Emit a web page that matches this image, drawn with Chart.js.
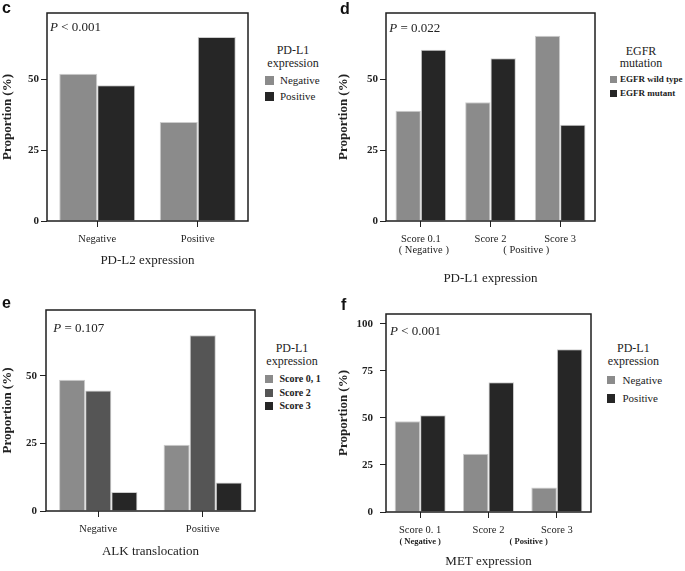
<!DOCTYPE html>
<html><head><meta charset="utf-8">
<script src="https://cdn.jsdelivr.net/npm/chart.js@4.4.1/dist/chart.umd.min.js"></script>
<style>
html,body{margin:0;padding:0;background:#fff;}
#root{position:relative;width:685px;height:571px;overflow:hidden;font-family:"Liberation Serif","Times New Roman",serif;color:#222;}
canvas{position:absolute;}
.t{position:absolute;white-space:nowrap;}
.sw{position:absolute;}
.pl{position:absolute;font-family:"Liberation Sans",Arial,sans-serif;font-weight:bold;font-size:16px;line-height:16px;color:#111;}
</style></head><body><div id="root"></div>
<script>
// ---- data ----
const cCategories = ["Negative", "Positive"];
const cNegative = [52, 35];
const cPositive = [48, 65];

const dCategories = ["Score 0.1", "Score 2", "Score 3"];
const dWildType = [39, 42, 65.5];
const dMutant = [60.5, 57.5, 34];

const eCategories = ["Negative", "Positive"];
const eScore01 = [48.5, 24.5];
const eScore2 = [44.5, 65];
const eScore3 = [7, 10.5];

const fCategories = ["Score 0. 1", "Score 2", "Score 3"];
const fNegative = [48.3, 31, 13];
const fPositive = [51.5, 69, 86.5];

const yTicks50 = [0, 25, 50];
const yTicks100 = [0, 25, 50, 75, 100];

const GRAY = '#8b8b8b', DARK = '#555555', BLACK = '#262626';
const SERIF = '"Liberation Serif", "Times New Roman", serif';
const root = document.getElementById('root');

const boxPlugin = {
  id: 'box',
  afterDatasetsDraw(chart) {
    const {ctx, chartArea: a} = chart;
    ctx.save();
    ctx.strokeStyle = '#1e1e1e';
    ctx.lineWidth = 1.5;
    ctx.strokeRect(a.left, a.top, a.right - a.left, a.bottom - a.top);
    ctx.restore();
  }
};

function panel(p) {
  const cv = document.createElement('canvas');
  cv.width = p.canvas.w; cv.height = p.canvas.h;
  cv.style.left = p.canvas.x + 'px'; cv.style.top = p.canvas.y + 'px';
  cv.style.width = p.canvas.w + 'px'; cv.style.height = p.canvas.h + 'px';
  root.appendChild(cv);
  const ys = 13, xs = 13, ylh = ys * 1.2, xlh = xs * 1.2;
  const chart = new Chart(cv, {
    type: 'bar',
    data: {
      labels: p.labels,
      datasets: p.datasets.map(d => ({
        label: d.label, data: d.data, backgroundColor: d.color,
        borderColor: '#cdcdcd', borderWidth: 1,
        barPercentage: 1, categoryPercentage: p.catPct
      }))
    },
    options: {
      responsive: false, animation: false, devicePixelRatio: 1,
      layout: {padding: {top: p.area.t - p.canvas.y, right: p.canvas.x + p.canvas.w - p.area.r, left: 0, bottom: 0}},
      plugins: {legend: {display: false}, tooltip: {enabled: false}},
      scales: {
        x: {
          type: 'category', offset: true,
          grid: {display: true, drawOnChartArea: false, drawTicks: true, tickLength: 6, tickColor: '#222', offset: false, lineWidth: 1},
          border: {display: false},
          ticks: {font: {family: SERIF, size: 10.5, weight: p.xBold ? 'bold' : 'normal'}, color: '#222', padding: 6, maxRotation: 0, autoSkip: false},
          title: {display: true, text: p.xTitle, font: {family: SERIF, size: xs}, color: '#222',
                  padding: {top: 0, bottom: p.canvas.y + p.canvas.h - p.xTitleY - xlh / 2}},
          afterFit(s) { s.height = p.canvas.y + p.canvas.h - p.area.b; }
        },
        y: {
          min: 0, max: p.yMax,
          afterBuildTicks(s) { s.ticks = p.yTicks.map(v => ({value: v})); },
          grid: {display: true, drawOnChartArea: false, drawTicks: true, tickLength: 6, tickColor: '#222', lineWidth: 1},
          border: {display: false},
          ticks: {font: {family: SERIF, size: 11, weight: 'bold'}, color: '#222', padding: p.yPad},
          title: {display: true, text: 'Proportion (%)', font: {family: SERIF, size: ys, weight: 'bold'}, color: '#222',
                  padding: {top: p.yTitleX - p.canvas.x - ylh / 2, bottom: 0}},
          afterFit(s) { s.width = p.area.l - p.canvas.x; }
        }
      }
    },
    plugins: [boxPlugin]
  });
  return chart;
}

function txt(s, x, y, size, o = {}) {
  const d = document.createElement('div');
  d.className = 't';
  d.innerHTML = s;
  d.style.fontSize = size + 'px';
  d.style.lineHeight = size + 'px';
  d.style.top = (y - size / 2) + 'px';
  if (o.center) { d.style.left = x + 'px'; d.style.transform = 'translateX(-50%)'; }
  else d.style.left = x + 'px';
  if (o.bold) d.style.fontWeight = 'bold';
  if (o.color) d.style.color = o.color;
  root.appendChild(d);
  return d;
}
function letter(s, x, y) {
  const d = document.createElement('div');
  d.className = 'pl'; d.textContent = s;
  d.style.left = x + 'px'; d.style.top = y + 'px';
  root.appendChild(d);
}
function legend(L) {
  L.title.forEach((t, i) => txt(t, L.cx, L.ty[i], 12, {center: true}));
  L.items.forEach((it, i) => {
    const sw = document.createElement('div');
    sw.className = 'sw';
    sw.style.left = L.sx + 'px';
    sw.style.top = (L.iy[i] - L.ss / 2) + 'px';
    sw.style.width = L.ss + 'px'; sw.style.height = L.ss + 'px';
    sw.style.background = it.color;
    root.appendChild(sw);
    txt(it.label, L.tx, L.iy[i], L.fs, {bold: L.bold});
  });
}

// ---- panel c ----
const chC = panel({
  canvas: {x: 0, y: 0, w: 250, h: 275}, area: {l: 47, t: 13, r: 248, b: 221},
  yTitleX: 7.5, xTitleY: 260.5, yPad: 2, yMax: 73.5, yTicks: yTicks50, catPct: 0.756,
  labels: cCategories, xTitle: 'PD-L2 expression',
  datasets: [{label: 'Negative', data: cNegative, color: GRAY}, {label: 'Positive', data: cPositive, color: BLACK}]
});
letter('c', 2, 0);
txt('<i>P</i> &lt; 0.001', 50, 26.7, 13);
legend({title: ['PD-L1', 'expression'], cx: 293, ty: [50, 62.5], sx: 265, ss: 9, tx: 280, fs: 11,
  iy: [80, 96.7], items: [{label: 'Negative', color: GRAY}, {label: 'Positive', color: BLACK}]});

// ---- panel d ----
const chD = panel({
  canvas: {x: 336, y: 0, w: 261, h: 292}, area: {l: 386, t: 13, r: 595, b: 221},
  yTitleX: 344, xTitleY: 278.5, yPad: 2, yMax: 73.5, yTicks: yTicks50, catPct: 0.727,
  labels: dCategories, xTitle: 'PD-L1 expression',
  datasets: [{label: 'EGFR wild type', data: dWildType, color: GRAY}, {label: 'EGFR mutant', data: dMutant, color: BLACK}]
});
letter('d', 340, 0.5);
txt('<i>P</i> = 0.022', 389.3, 27.7, 13);
legend({title: ['EGFR', 'mutation'], cx: 641, ty: [50.5, 62.5], sx: 610, ss: 7, tx: 620, fs: 9, bold: true,
  iy: [79.5, 93], items: [{label: 'EGFR wild type', color: GRAY}, {label: 'EGFR mutant', color: BLACK}]});
{
  const sx = chD.scales.x, ox = 336;
  txt('( Negative )', ox + sx.getPixelForValue(0) + 3, 250, 10.5, {center: true});
  txt('( Positive )', ox + (sx.getPixelForValue(1) + sx.getPixelForValue(2)) / 2 + 1, 250, 10.5, {center: true});
}

// ---- panel e ----
const chE = panel({
  canvas: {x: 0, y: 290, w: 257, h: 281}, area: {l: 46, t: 310, r: 255, b: 511},
  yTitleX: 8, xTitleY: 551.7, yPad: 3, yMax: 74.3, yTicks: yTicks50, catPct: 0.75,
  labels: eCategories, xTitle: 'ALK translocation',
  datasets: [{label: 'Score 0, 1', data: eScore01, color: GRAY}, {label: 'Score 2', data: eScore2, color: DARK}, {label: 'Score 3', data: eScore3, color: BLACK}]
});
letter('e', 2, 295);
txt('<i>P</i> = 0.107', 53.3, 327.7, 13);
legend({title: ['PD-L1', 'expression'], cx: 292, ty: [348.3, 360.7], sx: 265, ss: 8, tx: 279.5, fs: 10, bold: true,
  iy: [379, 392.5, 406], items: [{label: 'Score 0, 1', color: GRAY}, {label: 'Score 2', color: DARK}, {label: 'Score 3', color: BLACK}]});

// ---- panel f ----
const chF = panel({
  canvas: {x: 336, y: 292, w: 257, h: 279}, area: {l: 386, t: 314, r: 591, b: 512},
  yTitleX: 344, xTitleY: 561.7, yPad: 7, yMax: 105.3, yTicks: yTicks100, catPct: 0.747,
  labels: fCategories, xTitle: 'MET expression',
  datasets: [{label: 'Negative', data: fNegative, color: GRAY}, {label: 'Positive', data: fPositive, color: BLACK}]
});
letter('f', 341, 296.5);
txt('<i>P</i> &lt; 0.001', 390, 330.7, 13);
legend({title: ['PD-L1', 'expression'], cx: 633.3, ty: [348.3, 361], sx: 606.5, ss: 8.5, tx: 622.5, fs: 11,
  iy: [380, 398.3], items: [{label: 'Negative', color: GRAY}, {label: 'Positive', color: BLACK}]});
{
  const sx = chF.scales.x, ox = 336;
  txt('( Negative )', ox + sx.getPixelForValue(0), 541, 8.5, {center: true, bold: true});
  txt('( Positive )', ox + (sx.getPixelForValue(1) + sx.getPixelForValue(2)) / 2 + 6, 541, 8.5, {center: true, bold: true});
}
</script></body></html>
